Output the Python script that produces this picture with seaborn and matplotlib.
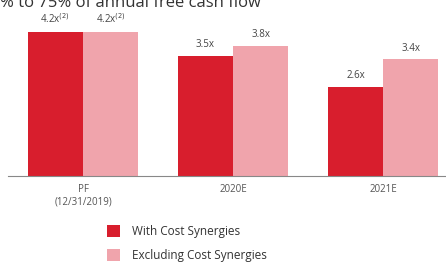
import matplotlib
matplotlib.use("Agg")
import matplotlib.pyplot as plt
import pandas as pd
import seaborn as sns
from matplotlib.patches import Patch

periods = ["PF\n(12/31/2019)", "2020E", "2021E"]
with_syn = [4.2, 3.5, 2.6]
excl_syn = [4.2, 3.8, 3.4]
labels_with = ["4.2x$^{(2)}$", "3.5x", "2.6x"]
labels_excl = ["4.2x$^{(2)}$", "3.8x", "3.4x"]
series = ["With Cost Synergies", "Excluding Cost Synergies"]
colors = ["#D81E2D", "#F0A4AC"]

df = pd.DataFrame({
    "period": periods * 2,
    "value": with_syn + excl_syn,
    "series": [series[0]] * 3 + [series[1]] * 3,
})

sns.set_theme(style="white")
plt.rcParams["font.family"] = ["Open Sans", "DejaVu Sans"]

fig = plt.figure(figsize=(4.46, 2.65), dpi=100)
ax = fig.add_axes([0.018, 0.336, 0.982, 0.664])

sns.barplot(data=df, x="period", y="value", hue="series", palette=colors,
            width=0.735, saturation=1, linewidth=0, ax=ax, legend=False)

for cont, labs in zip(ax.containers, [labels_with, labels_excl]):
    ax.bar_label(cont, labels=labs, padding=4, fontsize=7, color="#444444")

ax.set_xlim(-0.5, 2.42)
ax.set_ylim(0, 5.13)
ax.set_xlabel("")
ax.set_ylabel("")
ax.set_yticks([])
for s in ["top", "right", "left"]:
    ax.spines[s].set_visible(False)
ax.spines["bottom"].set_color("#888888")
ax.spines["bottom"].set_linewidth(0.8)
ax.tick_params(axis="x", length=0, labelsize=7, labelcolor="#555555", pad=6)

# headline cut by the top edge, as in the source picture
fig.text(0.0, 1 - 7 / 265, "% to 75% of annual free cash flow", fontsize=12,
         color="#333333", ha="left", va="baseline")

handles = [Patch(facecolor=c, edgecolor="none") for c in colors]
fig.legend(handles, series, loc="lower left", bbox_to_anchor=(0.215, -0.03),
           frameon=False, fontsize=8.5, handlelength=1.1, handleheight=1.2,
           handletextpad=1.1, labelspacing=0.95, labelcolor="#333333")

fig.savefig("out.png", dpi=100)
